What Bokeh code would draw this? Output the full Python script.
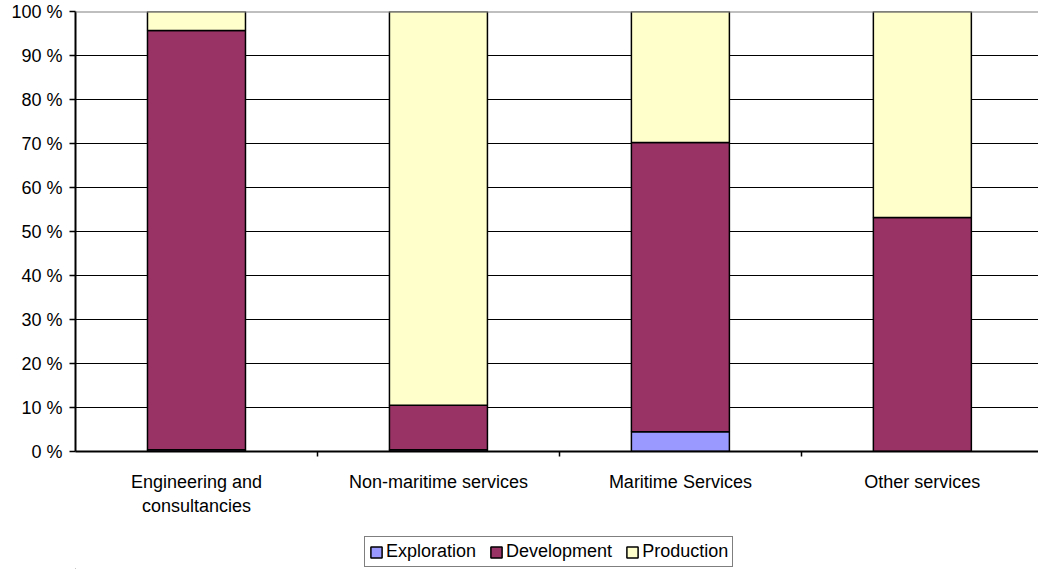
from bokeh.plotting import figure
from bokeh.layouts import column
from bokeh.models import (Range1d, FixedTicker, PrintfTickFormatter, Span, Legend,
                          LegendItem, ColumnDataSource)
from bokeh.embed import file_html
from bokeh.resources import INLINE

categories = ["Engineering and\nconsultancies", "Non-maritime services",
              "Maritime Services", "Other services"]
series = ["Exploration", "Development", "Production"]
exploration = [0.4, 0.4, 4.5, 0.0]
development = [95.3, 10.1, 65.7, 53.2]
production = [4.3, 89.5, 29.8, 46.8]
colors = ["#9999FF", "#993366", "#FFFFCC"]
y_ticks = list(range(0, 101, 10))

FONT = "Liberation Sans"
FS = "18px"

xpos = list(range(len(categories)))
source = ColumnDataSource(dict(x=xpos, Exploration=exploration,
                               Development=development, Production=production))

p = figure(width=1038, height=520, x_range=Range1d(-0.5, 3.48), y_range=Range1d(0, 100),
           output_backend="svg", toolbar_location=None,
           min_border_left=75, min_border_right=0, min_border_top=11, min_border_bottom=69)
p.outline_line_color = None
p.background_fill_color = "white"
p.border_fill_color = "white"

renderers = p.vbar_stack(series, x="x", width=0.405, source=source,
                         fill_color=colors, line_color="black", line_width=1.5)

# y axis
p.yaxis.ticker = FixedTicker(ticks=y_ticks)
p.yaxis.formatter = PrintfTickFormatter(format="%d %%")
p.yaxis.major_tick_out = 6
p.yaxis.major_tick_in = 0
p.yaxis.minor_tick_out = 0
p.yaxis.minor_tick_in = 0
p.yaxis.axis_line_width = 2
p.yaxis.axis_line_color = "black"
p.yaxis.major_tick_line_color = "black"
p.yaxis.major_tick_line_width = 1.5
p.yaxis.major_label_standoff = 7
p.yaxis.major_label_text_font = FONT
p.yaxis.major_label_text_font_size = FS
p.yaxis.major_label_text_color = "black"

# x axis
p.xaxis.ticker = FixedTicker(ticks=xpos, minor_ticks=[0.5, 1.5, 2.5])
p.xaxis.major_label_overrides = {i: c for i, c in zip(xpos, categories)}
p.xaxis.major_tick_line_color = None
p.xaxis.major_tick_out = 0
p.xaxis.major_tick_in = 0
p.xaxis.minor_tick_out = 5
p.xaxis.minor_tick_in = 0
p.xaxis.minor_tick_line_color = "black"
p.xaxis.minor_tick_line_width = 1.5
p.xaxis.axis_line_width = 2
p.xaxis.axis_line_color = "black"
p.xaxis.major_label_standoff = 15
p.xaxis.major_label_text_font = FONT
p.xaxis.major_label_text_font_size = FS
p.xaxis.major_label_text_color = "black"

# grids
p.xgrid.visible = False
p.ygrid.ticker = FixedTicker(ticks=y_ticks[1:-1])
p.ygrid.grid_line_color = "black"
p.ygrid.grid_line_width = 1
p.add_layout(Span(location=y_ticks[-1], dimension="width", line_color="#808080", line_width=2))

# legend strip below the chart (swatch renderers sit outside the visible range)
lg = figure(width=1038, height=49, x_range=Range1d(0, 1), y_range=Range1d(0, 1),
            output_backend="svg", toolbar_location=None,
            min_border_left=0, min_border_right=0, min_border_top=0, min_border_bottom=0)
lg.axis.visible = False
lg.grid.visible = False
lg.outline_line_color = None
lg.border_fill_color = "white"
lg.background_fill_color = "white"
dummies = [lg.vbar(x=[-5], top=[-5], bottom=[-6], width=0.1, fill_color=c,
                   line_color="black", line_width=1.5)
           for c in colors]
legend = Legend(items=[LegendItem(label=s, renderers=[r]) for s, r in zip(series, dummies)],
                orientation="horizontal", location=(289, 2),
                label_text_font=FONT, label_text_font_size=FS, label_text_color="black",
                glyph_width=14, glyph_height=14, label_standoff=3, spacing=13,
                padding=4, label_height=18, border_line_color="black",
                border_line_width=1.5, margin=0)
lg.add_layout(legend, "center")

layout = column(p, lg, spacing=0)
open("out.html", "w").write(file_html(layout, INLINE))
